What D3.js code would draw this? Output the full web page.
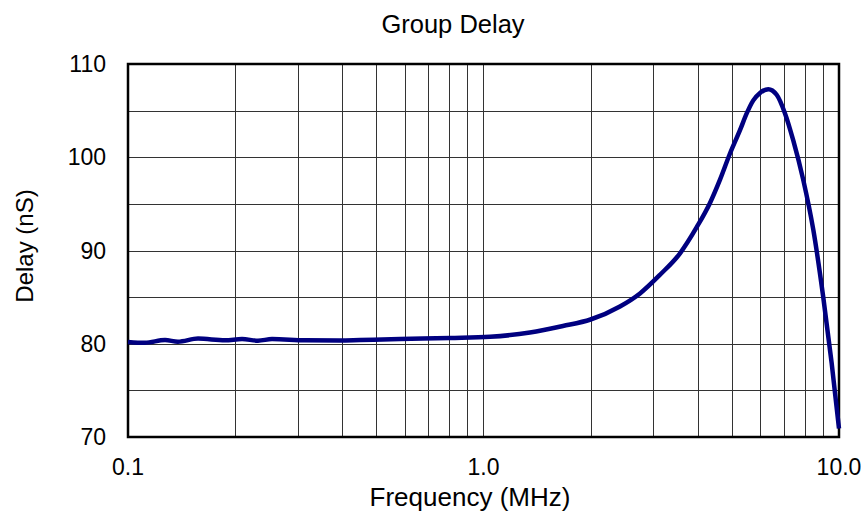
<!DOCTYPE html>
<html lang="en">

<head>
  <meta charset="UTF-8">
  <title>Group Delay</title>
  <script src="https://d3js.org/d3.v7.min.js"></script>
  <style>
    body {
      margin: 0;
      background: #ffffff;
      font-family: "Liberation Sans", Arial, sans-serif;
    }

    .grid line {
      stroke: #333;
      stroke-width: 1;
      shape-rendering: crispEdges;
    }

    .tick-label {
      font-size: 23px;
      fill: #000;
    }
  </style>
</head>

<body>
  <div id="chart"></div>
  <script>
    // values
    const freq = [0.1, 0.1116, 0.1271, 0.1382, 0.1574, 0.1875, 0.2093, 0.2321, 0.2542, 0.3147,
      0.3948, 0.4494, 0.5823, 0.805, 1.043, 1.351, 1.673, 2.0, 2.42, 2.756, 3.137, 3.571,
      3.979, 4.336, 4.627, 4.936, 5.266, 5.50, 5.74, 5.995, 6.326, 6.678, 7.049, 7.436, 7.93,
      8.468, 9.03, 9.537, 10.0];
    const delay = [80.2, 80.1, 80.4, 80.22, 80.55, 80.38, 80.5, 80.33, 80.5, 80.37,
      80.35, 80.4, 80.5, 80.62, 80.75, 81.2, 81.9, 82.6, 84.0, 85.4, 87.4, 89.7,
      92.5, 95.1, 97.6, 100.4, 102.9, 104.7, 106.1, 106.9, 107.3, 106.7, 104.7, 101.8, 97.6,
      92.2, 85.0, 77.9, 70.9];

    const yTicks = [70, 80, 90, 100, 110];
    const yGrid = [75, 80, 85, 90, 95, 100, 105];
    const xTicks = [0.1, 1, 10];
    const xTickLabels = ["0.1", "1.0", "10.0"];
    const xGrid = [0.2, 0.3, 0.4, 0.5, 0.6, 0.7, 0.8, 0.9, 1, 2, 3, 4, 5, 6, 7, 8, 9];

    const margin = {top: 64, right: 22, bottom: 78, left: 128},
      width = 861 - margin.left - margin.right,
      height = 515 - margin.top - margin.bottom;

    const svg = d3.select("#chart")
      .append("svg")
      .attr("width", 861)
      .attr("height", 515)
      .append("g")
      .attr("transform", "translate(" + margin.left + "," + margin.top + ")");

    const x = d3.scaleLog()
      .domain([0.1, 10])
      .range([0, width]);

    const y = d3.scaleLinear()
      .domain([70, 110])
      .range([height, 0]);

    // grid lines
    const grid = svg.append("g").attr("class", "grid");
    grid.selectAll(".vx")
      .data(xGrid)
      .enter().append("line")
      .attr("x1", d => Math.round(x(d)) + 0.5)
      .attr("x2", d => Math.round(x(d)) + 0.5)
      .attr("y1", 0)
      .attr("y2", height);
    grid.selectAll(".hy")
      .data(yGrid)
      .enter().append("line")
      .attr("x1", 0)
      .attr("x2", width)
      .attr("y1", d => Math.round(y(d)) + 0.5)
      .attr("y2", d => Math.round(y(d)) + 0.5);

    // frame
    svg.append("rect")
      .attr("x", 0)
      .attr("y", 0)
      .attr("width", width)
      .attr("height", height)
      .attr("fill", "none")
      .attr("stroke", "#000")
      .attr("stroke-width", 2.5);

    // the curve
    const line = d3.line()
      .x((d, i) => x(freq[i]))
      .y(d => y(d))
      .curve(d3.curveMonotoneX);

    svg.append("path")
      .datum(delay)
      .attr("fill", "none")
      .attr("stroke", "#000080")
      .attr("stroke-width", 4.5)
      .attr("stroke-linejoin", "round")
      .attr("d", line);

    // tick labels
    svg.selectAll(".ylab")
      .data(yTicks)
      .enter().append("text")
      .attr("class", "tick-label")
      .attr("text-anchor", "end")
      .attr("x", -22)
      .attr("y", d => y(d) + 8)
      .text(d => d);

    svg.selectAll(".xlab")
      .data(xTicks)
      .enter().append("text")
      .attr("class", "tick-label")
      .attr("text-anchor", "middle")
      .attr("x", d => x(d))
      .attr("y", height + 38)
      .text((d, i) => xTickLabels[i]);

    // title
    svg.append("text")
      .attr("text-anchor", "middle")
      .attr("x", 453 - margin.left)
      .attr("y", -31)
      .style("font-size", "25.5px")
      .text("Group Delay");

    // X Axis label
    svg.append("text")
      .attr("text-anchor", "middle")
      .attr("x", 470 - margin.left)
      .attr("y", height + 69)
      .style("font-size", "26px")
      .text("Frequency (MHz)");

    // Y Axis label
    svg.append("text")
      .attr("text-anchor", "middle")
      .attr("transform", "rotate(-90)")
      .attr("y", -95)
      .attr("x", -(246 - margin.top))
      .style("font-size", "24px")
      .text("Delay (nS)");
  </script>
</body>

</html>
